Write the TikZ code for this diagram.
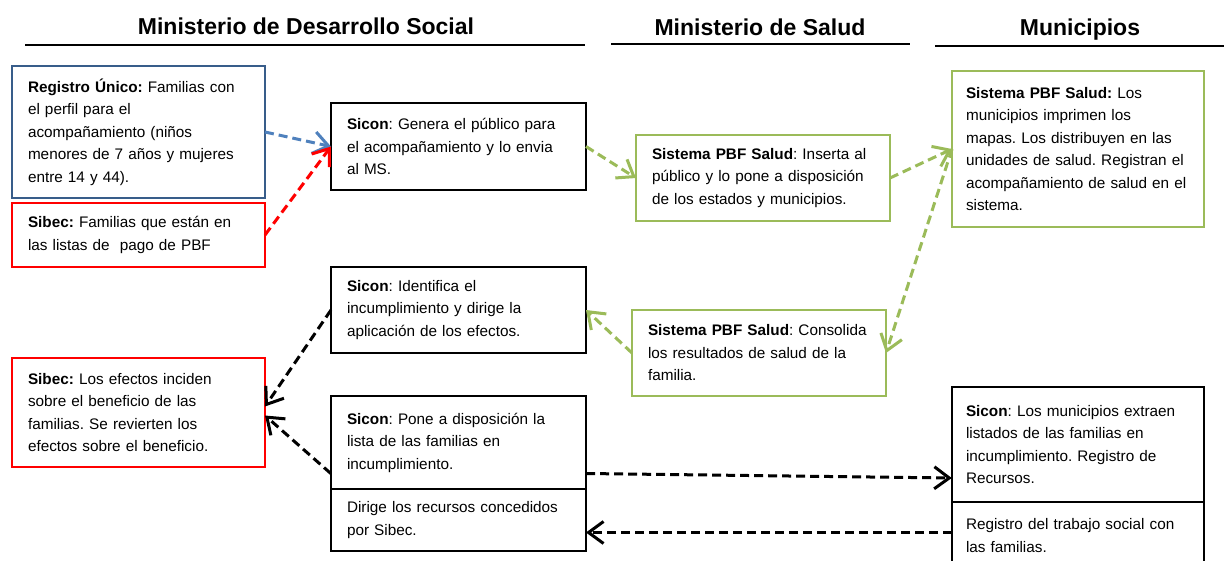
\documentclass[tikz,border=0pt]{standalone}
\usepackage{fontspec}
\setmainfont{Liberation Sans}
\usetikzlibrary{positioning,fit,arrows.meta}

\definecolor{regblue}{RGB}{56,93,138}
\definecolor{arrblue}{RGB}{79,129,189}
\definecolor{sibred}{RGB}{255,0,0}
\definecolor{pbfgreen}{RGB}{155,187,89}
\newcommand{\bodyfont}{\fontsize{15.3}{22.5}\selectfont\frenchspacing}
\newcommand{\headfont}{\fontsize{23}{27}\selectfont\bfseries}

\begin{document}
\begin{tikzpicture}[x=1pt,y=-1pt,
		box/.style={draw, line width=2pt, align=left, anchor=north west,
			inner xsep=16pt, inner ysep=0pt, outer sep=0pt, font=\bodyfont},
		leftbox/.style={box, text width=221pt},
		midbox/.style={box, draw=black, text width=223pt},
		saludbox/.style={box, draw=pbfgreen, text width=222pt},
		munbox/.style={box, inner xsep=14pt, text width=224pt},
		flow/.style={line width=3pt, dash pattern=on 9pt off 5pt,
			-{Straight Barb[length=15pt,width=22pt,line width=3pt]}},
		head/.style={anchor=base, font=\headfont}
		]
	\clip (0,0) rectangle (1224,560);
	\fill[white] (0,0) rectangle (1224,560);

	% headers
	\node[head] (hmds) at (306,34) {Ministerio de Desarrollo Social};
	\node[head] (hms) at (760,35) {Ministerio de Salud};
	\node[head] (hmun) at (1080,35) {Municipios};
	\draw[line width=2pt] (25,45) -- (585,45);
	\draw[line width=2pt] (611,44) -- (910,44);
	\draw[line width=2pt] (935,46) -- (1224,46);

	% Ministerio de Desarrollo Social
	\node[leftbox, draw=regblue, minimum height=132pt] (reg) at (12,66)
		{\textbf{Registro Único:} Familias con\\el perfil para el\\acompañamiento (niños\\menores de 7 años y mujeres\\entre 14 y 44).};
	\node[leftbox, draw=sibred, minimum height=64pt] (sib1) at (12,203)
		{\textbf{Sibec:} Familias que están en\\las listas de\ \ pago de PBF};
	\node[leftbox, draw=sibred, minimum height=109pt] (sib2) at (12,358)
		{\textbf{Sibec:} Los efectos inciden\\sobre el beneficio de las\\familias. Se revierten los\\efectos sobre el beneficio.};
	\node[midbox, minimum height=87pt] (gen) at (331,103)
		{\textbf{Sicon}: Genera el público para\\el acompañamiento y lo envia\\al MS.};
	\node[midbox, minimum height=86pt] (ide) at (331,267)
		{\textbf{Sicon}: Identifica el\\incumplimiento y dirige la\\aplicación de los efectos.};
	\node[midbox, minimum height=93pt] (pone) at (331,396)
		{\textbf{Sicon}: Pone a disposición la\\lista de las familias en\\incumplimiento.};
	\node[midbox, minimum height=62pt, below=0pt of pone] (dir)
		{Dirige los recursos concedidos\\por Sibec.};
	\node[fit=(pone)(dir), inner sep=0pt] (poneall) {};

	% Ministerio de Salud
	\node[saludbox, minimum height=86pt] (ins) at (636,135)
		{\textbf{Sistema PBF Salud}: Inserta al\\público y lo pone a disposición\\de los estados y municipios.};
	\node[saludbox, minimum height=86pt] (con) at (632,310)
		{\textbf{Sistema PBF Salud}: Consolida\\los resultados de salud de la\\familia.};

	% Municipios
	\node[munbox, draw=pbfgreen, minimum height=156pt] (mun) at (952,71)
		{\textbf{Sistema PBF Salud:} Los\\municipios imprimen los\\mapas. Los distribuyen en las\\unidades de salud. Registran el\\acompañamiento de salud en el\\sistema.};
	\node[munbox, draw=black, minimum height=115pt] (ext) at (952,387)
		{\textbf{Sicon}: Los municipios extraen\\listados de las familias en\\incumplimiento. Registro de\\Recursos.};
	\node[munbox, draw=black, minimum height=67pt, below=0pt of ext] (tra)
		{Registro del trabajo social con\\las familias.};
	\node[fit=(ext)(tra), inner sep=0pt] (extall) {};

	% flows
	\draw[flow, arrblue] (reg.east) -- (gen.west);
	\draw[flow, sibred] (sib1.east) -- (gen.west);
	\draw[flow, pbfgreen] (gen.east) -- (ins.west);
	\draw[flow, pbfgreen] (ins.east) -- (mun.west);
	\draw[flow, pbfgreen] (mun.west) -- (con.east);
	\draw[flow, pbfgreen] (con.west) -- (ide.east);
	\draw[flow] (ide.west) -- ([yshift=6pt]sib2.east);
	\draw[flow] (poneall.west) -- ([yshift=-3pt]sib2.east);
	\draw[flow] (poneall.east) -- (extall.west);
	\draw[flow] ([yshift=3pt]tra.west) -- ([yshift=3pt]tra.west -| dir.east);
\end{tikzpicture}
\end{document}
